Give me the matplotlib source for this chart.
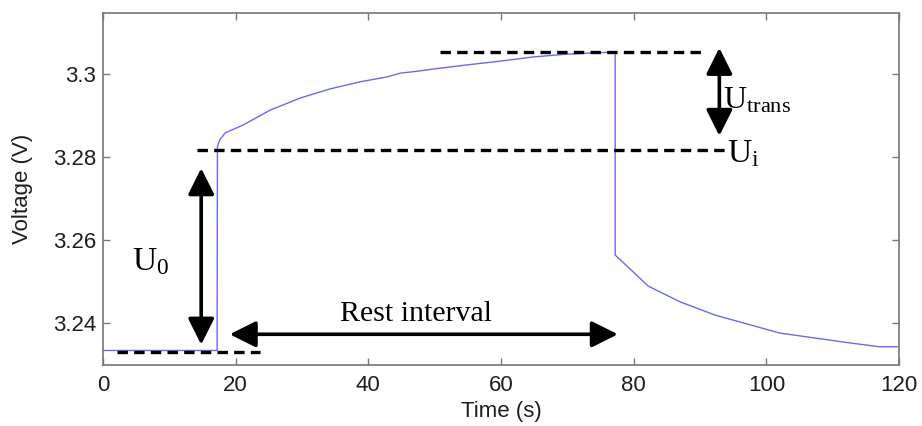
import matplotlib
matplotlib.use("Agg")
import matplotlib.pyplot as plt

# ---- data ----
time_s = [0, 17.2, 17.25, 17.6, 18.4, 21.1, 25.2, 29.7, 34.2, 38.7, 42.8, 44.8,
          47.5, 49.8, 54.9, 59.9, 64.8, 70.0, 77.2, 77.2, 82.2, 87.0, 92.3,
          102.0, 112.2, 117.0, 120.0]
voltage_v = [3.2334, 3.2334, 3.2826, 3.2841, 3.2858, 3.2877, 3.2913, 3.2942,
             3.2964, 3.2981, 3.2993, 3.3002, 3.3007, 3.3012, 3.3022, 3.3031,
             3.3041, 3.3048, 3.3053, 3.2564, 3.2489, 3.2451, 3.2419, 3.2376,
             3.2353, 3.2343, 3.2343]

x_ticks = [0, 20, 40, 60, 80, 100, 120]
y_ticks = [3.24, 3.26, 3.28, 3.30]
y_tick_labels = ["3.24", "3.26", "3.28", "3.3"]

# annotation levels
level_base = 3.2330
level_ui = 3.2817
level_peak = 3.3053

plt.rcParams["mathtext.fontset"] = "custom"
plt.rcParams["mathtext.rm"] = "Liberation Serif"
plt.rcParams["mathtext.it"] = "Liberation Serif:italic"
plt.rcParams["lines.scale_dashes"] = False

fig = plt.figure(figsize=(9.22, 4.26), dpi=100)
ax = fig.add_axes([0.1117, 0.1432, 0.8635, 0.8263])

ax.plot(time_s, voltage_v, color="#6a6aec", lw=1.0, zorder=3)

ax.set_xlim(0, 120)
ax.set_ylim(3.2299, 3.3147)
ax.set_xticks(x_ticks)
ax.set_yticks(y_ticks)
ax.set_yticklabels(y_tick_labels)

sans = "Liberation Sans"
for lab in ax.get_xticklabels() + ax.get_yticklabels():
    lab.set_fontfamily(sans)
ax.tick_params(direction="in", length=5, width=1.0, color="#777777",
               labelsize=16, labelcolor="#1e1e1e", top=True, right=True)
ax.tick_params(axis="x", pad=7)
ax.tick_params(axis="y", pad=5)
for s in ax.spines.values():
    s.set_color("#777777")
    s.set_linewidth(1.2)

ax.set_xlabel("Time (s)", fontsize=16, family=sans, color="#1e1e1e")
ax.set_ylabel("Voltage (V)", fontsize=16, family=sans, color="#1e1e1e")
ax.xaxis.set_label_coords(0.5, -0.103)
ax.yaxis.set_label_coords(-0.088, 0.5)

# dashed reference lines
dash_kw = dict(color="black", lw=2.4, dashes=(7.5, 4.5), zorder=4)
ax.plot([2.1, 23.7], [level_base, level_base], **dash_kw)
ax.plot([14.2, 93.8], [level_ui, level_ui], **dash_kw)
ax.plot([50.8, 90.3], [level_peak, level_peak], **dash_kw)

# arrows
arrow_style = "<|-|>,head_length=16,head_width=8"
akw = dict(arrowstyle=arrow_style, color="black", lw=2.6, shrinkA=0, shrinkB=0,
           mutation_scale=1)
ax.annotate("", xy=(14.8, 3.2348), xytext=(14.8, 3.2773), arrowprops=akw)
ax.annotate("", xy=(19.1, 3.2373), xytext=(77.6, 3.2373), arrowprops=akw)
ax.annotate("", xy=(92.9, 3.2851), xytext=(92.9, 3.3063), arrowprops=akw)

serif_kw = dict(fontsize=24, color="black", ha="left", va="baseline")
ax.text(4.4, 3.2528, r"$\mathrm{U}_{\mathrm{0}}$", **serif_kw)
ax.text(93.4, 3.2918, r"$\mathrm{U}_{\mathrm{trans}}$", fontsize=23,
        color="black", ha="left", va="baseline")
ax.text(94.0, 3.2788, r"$\mathrm{U}_{\mathrm{i}}$", **serif_kw)
ax.text(35.7, 3.2405, "Rest interval", fontsize=21.5, family="Liberation Serif",
        color="black", ha="left", va="baseline")

fig.savefig("out.png", dpi=100)
